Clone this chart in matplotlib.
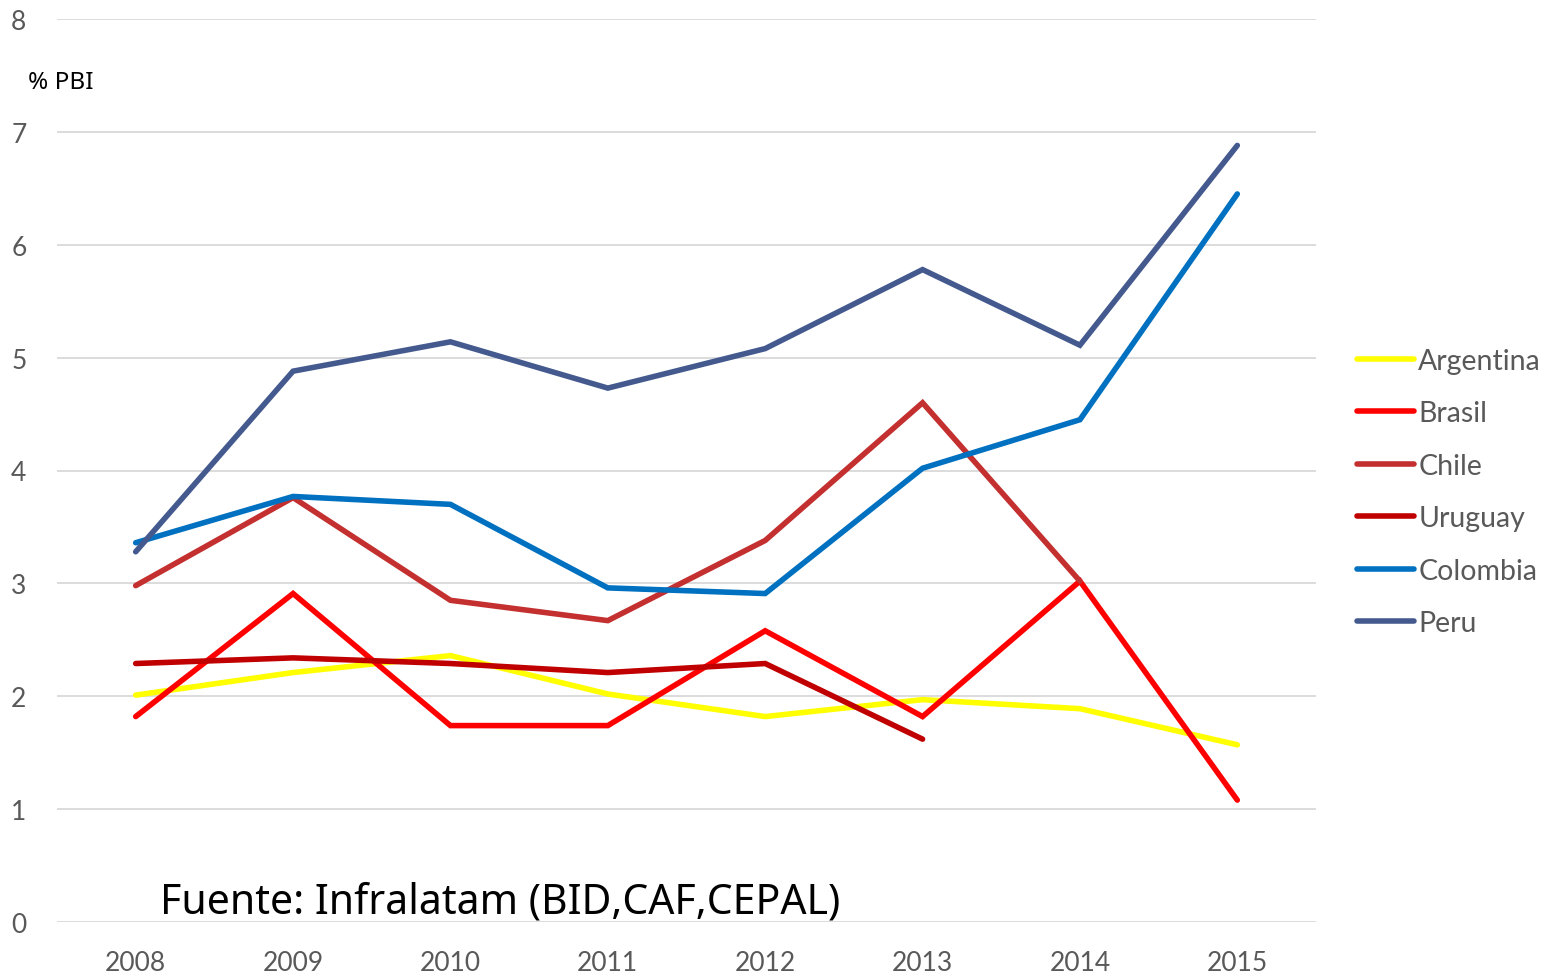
import matplotlib
matplotlib.use("Agg")
import matplotlib.pyplot as plt
import numpy as np

# ---------------------------------------------------------------------------
# Data (% PBI)
# ---------------------------------------------------------------------------
years = ["2008", "2009", "2010", "2011", "2012", "2013", "2014", "2015"]

argentina = [2.01, 2.21, 2.36, 2.02, 1.82, 1.97, 1.89, 1.57]
brasil = [1.82, 2.91, 1.74, 1.74, 2.58, 1.82, 3.02, 1.08]
chile = [2.98, 3.76, 2.85, 2.67, 3.38, 4.60, 3.02, np.nan]
uruguay = [2.29, 2.34, 2.29, 2.21, 2.29, 1.62, np.nan, np.nan]
colombia = [3.36, 3.77, 3.70, 2.96, 2.91, 4.02, 4.45, 6.45]
peru = [3.28, 4.88, 5.14, 4.73, 5.08, 5.78, 5.11, 6.88]

series_names = ["Argentina", "Brasil", "Chile", "Uruguay", "Colombia", "Peru"]
series_values = [argentina, brasil, chile, uruguay, colombia, peru]
series_colors = ["#FFFF00", "#FF0000", "#C3302F", "#C00000", "#0070C0", "#445A8F"]

y_ticks = [0, 1, 2, 3, 4, 5, 6, 7, 8]

TEXT_GREY = "#595959"
GRID = "#D9D9D9"

fig = plt.figure(figsize=(15.6, 9.79), dpi=100)
ax = fig.add_axes([57 / 1560, 56 / 979, (1316 - 57) / 1560, (923 - 20) / 979])

x = np.arange(len(years))
for name, vals, col in zip(series_names, series_values, series_colors):
    ax.plot(x, vals, color=col, linewidth=4.0, label=name,
            solid_capstyle="round", solid_joinstyle="miter")

ax.set_xlim(-0.5, len(years) - 0.5)
ax.set_ylim(0, 8)
ax.set_yticks(y_ticks)
ax.set_xticks(x)
ax.set_xticklabels(years)
ax.grid(axis="y", color=GRID, linewidth=1.3)
ax.set_axisbelow(True)
for s in ax.spines.values():
    s.set_visible(False)
ax.tick_params(axis="both", length=0, labelcolor=TEXT_GREY, labelsize=19)
ax.tick_params(axis="y", pad=22)
ax.tick_params(axis="x", pad=20)
for lab in ax.get_xticklabels() + ax.get_yticklabels():
    lab.set_family("Lato")

fig.text(28 / 1560, 1 - 83 / 979, "% PBI", fontsize=17.5, family="Noto Sans",
         color="black", ha="left", va="center")
fig.text(160 / 1560, 1 - 903 / 979, "Fuente: Infralatam (BID,CAF,CEPAL)",
         fontsize=29.5, family="Noto Sans", color="black", ha="left", va="center")

leg = fig.legend(loc="center left", bbox_to_anchor=(1357 / 1560, 1 - 493 / 979),
                 frameon=False, handlelength=2.0, handletextpad=0.15,
                 labelspacing=0.93, borderaxespad=0, borderpad=0,
                 prop={"family": "Lato", "size": 20.5})
for t in leg.get_texts():
    t.set_color(TEXT_GREY)

fig.savefig("out.png", dpi=100)
